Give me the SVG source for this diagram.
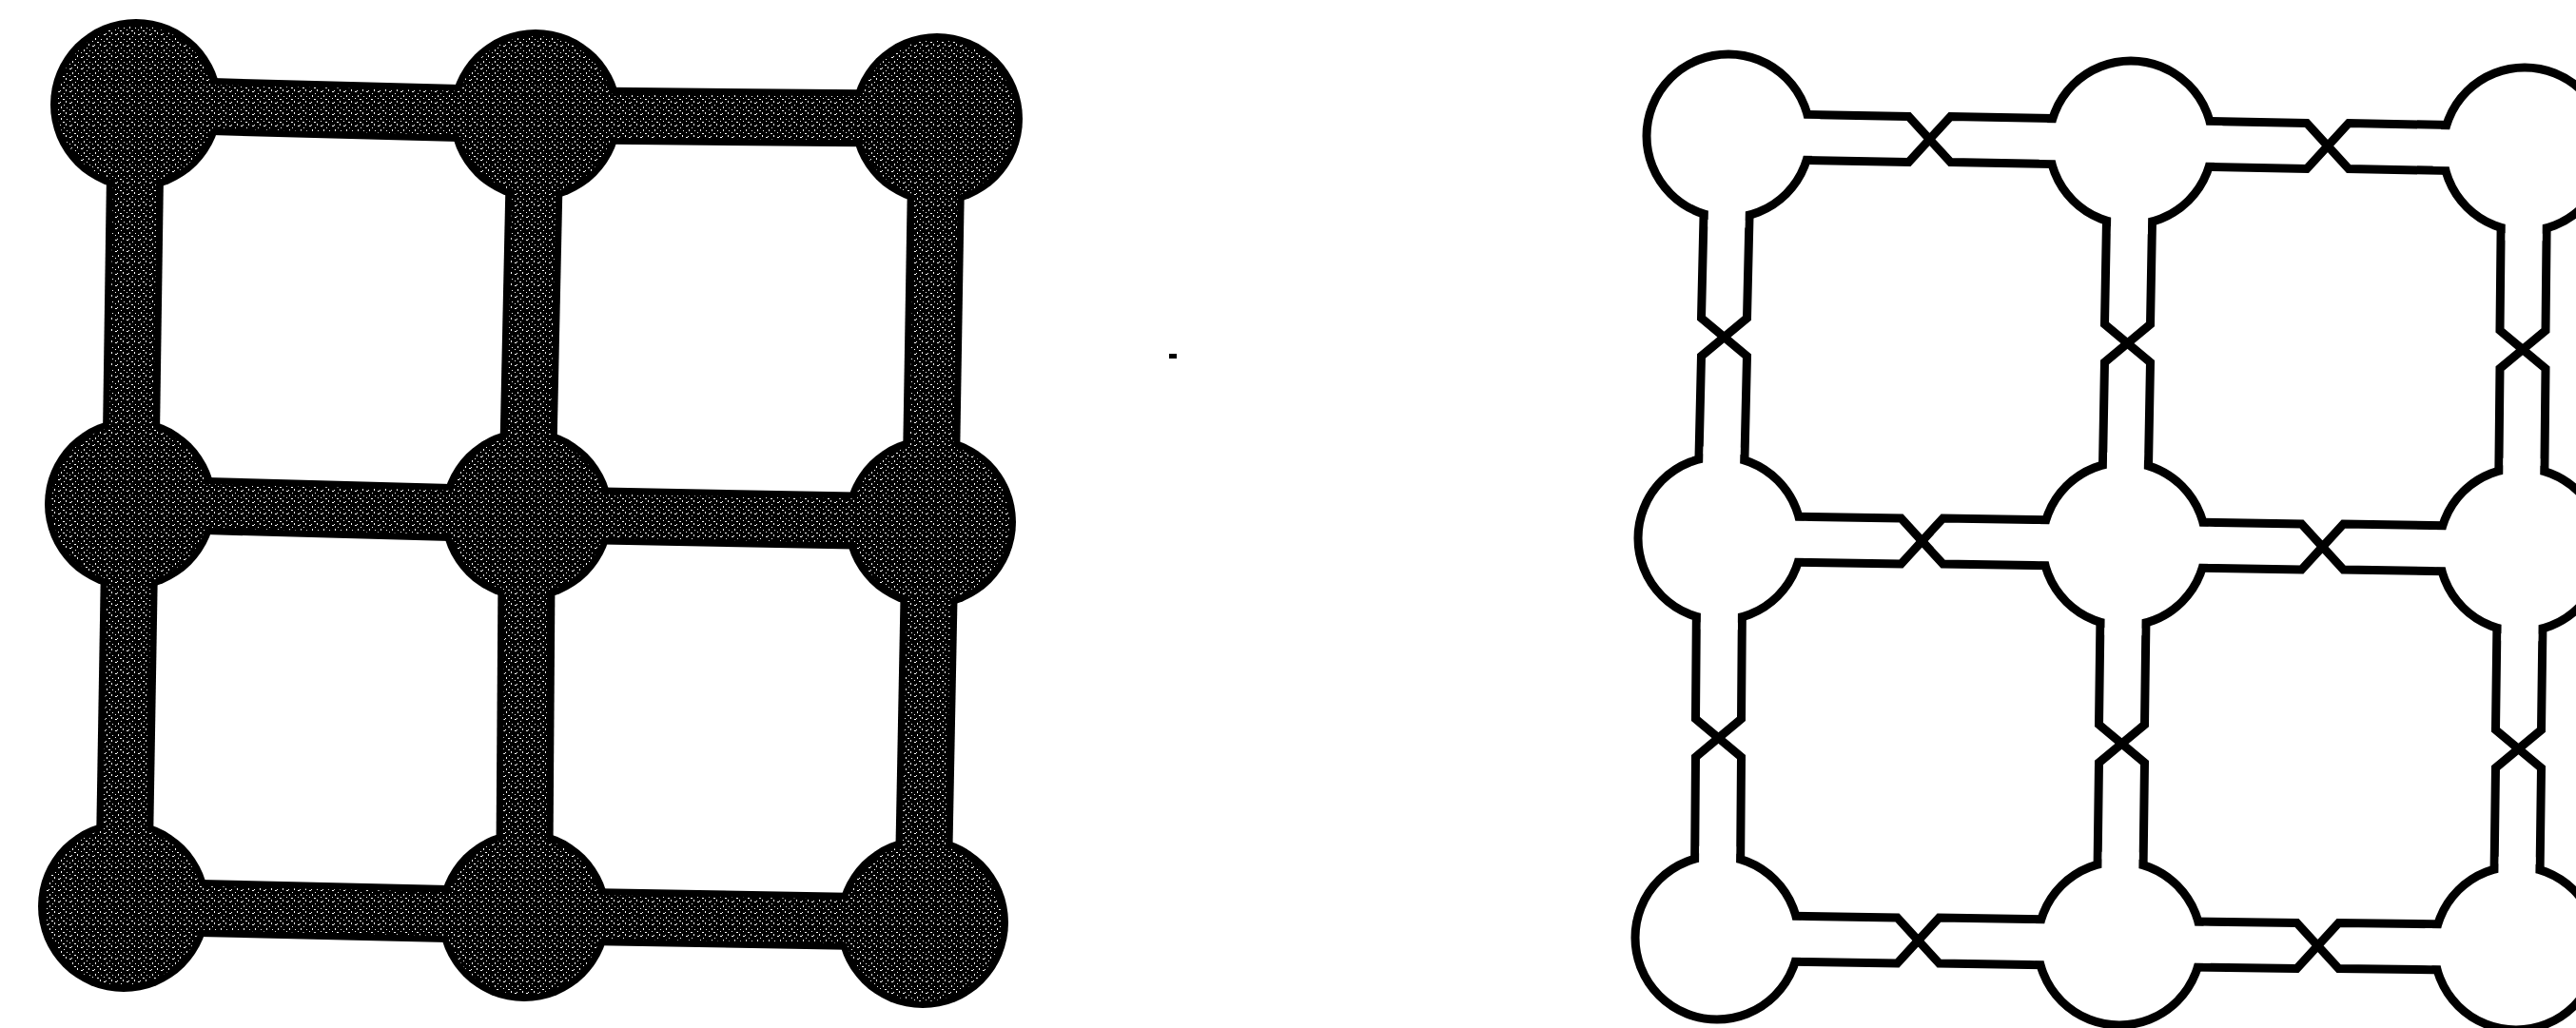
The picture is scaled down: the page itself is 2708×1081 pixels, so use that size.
<svg xmlns="http://www.w3.org/2000/svg" width="2708" height="1081" viewBox="0 0 2708 1081">
<defs>
<pattern id="stip" patternUnits="userSpaceOnUse" width="12" height="12">
<rect width="12" height="12" fill="#000"/>
<g fill="#fff" shape-rendering="crispEdges">
<rect x="1" y="0" width="2" height="1"/>
<rect x="7" y="2" width="1" height="1"/>
<rect x="4" y="4" width="1" height="2"/>
<rect x="10" y="5" width="1" height="1"/>
<rect x="6" y="8" width="2" height="1"/>
<rect x="1" y="7" width="1" height="1"/>
<rect x="9" y="10" width="1" height="2"/>
<rect x="3" y="11" width="1" height="1"/>
</g>
</pattern>
<style>
.dn{fill:#000}
.di{fill:url(#stip)}
.bo{stroke:#000;stroke-width:60;fill:none}
.bi{stroke:url(#stip);stroke-width:46;fill:none}
.rn{fill:#fff;stroke:#000;stroke-width:9}
.op{stroke:#fff;stroke-width:39;fill:none}
.ch{stroke:#000;stroke-width:9;fill:none;stroke-linejoin:miter;stroke-miterlimit:10}
</style>
</defs>
<rect width="2708" height="1081" fill="#fff"/>

<!-- Left grid: nodes -->
<g id="l-tl"><circle class="dn" cx="143" cy="110" r="90"/><circle class="di" cx="143" cy="110" r="83"/></g>
<g id="l-tm"><circle class="dn" cx="563" cy="121" r="90"/><circle class="di" cx="563" cy="121" r="83"/></g>
<g id="l-tr"><circle class="dn" cx="985" cy="125" r="90"/><circle class="di" cx="985" cy="125" r="83"/></g>
<g id="l-ml"><circle class="dn" cx="137" cy="530" r="90"/><circle class="di" cx="137" cy="530" r="83"/></g>
<g id="l-mm"><circle class="dn" cx="554" cy="541" r="90"/><circle class="di" cx="554" cy="541" r="83"/></g>
<g id="l-mr"><circle class="dn" cx="978" cy="549" r="90"/><circle class="di" cx="978" cy="549" r="83"/></g>
<g id="l-bl"><circle class="dn" cx="130" cy="953" r="90"/><circle class="di" cx="130" cy="953" r="83"/></g>
<g id="l-bm"><circle class="dn" cx="551" cy="963" r="90"/><circle class="di" cx="551" cy="963" r="83"/></g>
<g id="l-br"><circle class="dn" cx="970" cy="970" r="90"/><circle class="di" cx="970" cy="970" r="83"/></g>

<!-- Left grid: connectors -->
<g id="connectors-left">
<line class="bo" x1="223" y1="112.1" x2="483" y2="118.9"/>
<line class="bo" x1="643" y1="121.8" x2="905" y2="124.2"/>
<line class="bo" x1="217" y1="532.1" x2="474" y2="538.9"/>
<line class="bo" x1="634" y1="542.5" x2="898" y2="547.5"/>
<line class="bo" x1="210" y1="954.9" x2="471" y2="961.1"/>
<line class="bo" x1="631" y1="964.3" x2="890" y2="968.7"/>
<line class="bo" x1="141.9" y1="190" x2="138.1" y2="450"/>
<line class="bo" x1="561.3" y1="201" x2="555.7" y2="461"/>
<line class="bo" x1="983.7" y1="205" x2="979.3" y2="469"/>
<line class="bo" x1="135.7" y1="610" x2="131.3" y2="873"/>
<line class="bo" x1="553.4" y1="621" x2="551.6" y2="883"/>
<line class="bo" x1="976.5" y1="629" x2="971.5" y2="890"/>
<line class="bi" x1="143" y1="110" x2="563" y2="121"/>
<line class="bi" x1="563" y1="121" x2="985" y2="125"/>
<line class="bi" x1="137" y1="530" x2="554" y2="541"/>
<line class="bi" x1="554" y1="541" x2="978" y2="549"/>
<line class="bi" x1="130" y1="953" x2="551" y2="963"/>
<line class="bi" x1="551" y1="963" x2="970" y2="970"/>
<line class="bi" x1="143" y1="110" x2="137" y2="530"/>
<line class="bi" x1="563" y1="121" x2="554" y2="541"/>
<line class="bi" x1="985" y1="125" x2="978" y2="549"/>
<line class="bi" x1="137" y1="530" x2="130" y2="953"/>
<line class="bi" x1="554" y1="541" x2="551" y2="963"/>
<line class="bi" x1="978" y1="549" x2="970" y2="970"/>
</g>

<rect x="1229" y="372" width="8" height="5" fill="#000"/>

<!-- Right grid: connectors (channels with crossings) -->
<g id="connectors-right">
<polyline class="ch" points="1817,119 2006.5,122.5 2028.5,146.5 2050.5,122.5 2240,126"/>
<polyline class="ch" points="1817,167 2006.5,170.5 2028.5,146.5 2050.5,170.5 2240,174"/>
<polyline class="ch" points="2240,126 2425,129.5 2447,153.5 2469,129.5 2654,133"/>
<polyline class="ch" points="2240,174 2425,177.5 2447,153.5 2469,177.5 2654,181"/>
<polyline class="ch" points="1808,542 1998.5,545 2020.5,569 2042.5,545 2233,548"/>
<polyline class="ch" points="1808,590 1998.5,593 2020.5,569 2042.5,593 2233,596"/>
<polyline class="ch" points="2233,548 2419.5,551 2441.5,575 2463.5,551 2650,554"/>
<polyline class="ch" points="2233,596 2419.5,599 2441.5,575 2463.5,599 2650,602"/>
<polyline class="ch" points="1805,962 1994.5,965 2016.5,989 2038.5,965 2228,968"/>
<polyline class="ch" points="1805,1010 1994.5,1013 2016.5,989 2038.5,1013 2228,1016"/>
<polyline class="ch" points="2228,968 2414.5,970.5 2436.5,994.5 2458.5,970.5 2645,973"/>
<polyline class="ch" points="2228,1016 2414.5,1018.5 2436.5,994.5 2458.5,1018.5 2645,1021"/>
<polyline class="ch" points="1793,143 1788.5,334.5 1812.5,354.5 1788.5,374.5 1784,566"/>
<polyline class="ch" points="1841,143 1836.5,334.5 1812.5,354.5 1836.5,374.5 1832,566"/>
<polyline class="ch" points="2216,150 2212.5,341 2236.5,361 2212.5,381 2209,572"/>
<polyline class="ch" points="2264,150 2260.5,341 2236.5,361 2260.5,381 2257,572"/>
<polyline class="ch" points="2630,157 2628,347.5 2652,367.5 2628,387.5 2626,578"/>
<polyline class="ch" points="2678,157 2676,347.5 2652,367.5 2676,387.5 2674,578"/>
<polyline class="ch" points="1784,566 1782.5,756 1806.5,776 1782.5,796 1781,986"/>
<polyline class="ch" points="1832,566 1830.5,756 1806.5,776 1830.5,796 1829,986"/>
<polyline class="ch" points="2209,572 2206.5,762 2230.5,782 2206.5,802 2204,992"/>
<polyline class="ch" points="2257,572 2254.5,762 2230.5,782 2254.5,802 2252,992"/>
<polyline class="ch" points="2626,578 2623.5,767.5 2647.5,787.5 2623.5,807.5 2621,997"/>
<polyline class="ch" points="2674,578 2671.5,767.5 2647.5,787.5 2671.5,807.5 2669,997"/>
</g>

<!-- Right grid: nodes -->
<g id="r-tl"><circle class="rn" cx="1817" cy="143" r="86"/><path class="op" d="M1817 143L1913 144.6M1817 143L1815 239"/></g>
<g id="r-tm"><circle class="rn" cx="2240" cy="150" r="86"/><path class="op" d="M2240 150L2144 148.4M2240 150L2336 151.6M2240 150L2238.4 246"/></g>
<g id="r-tr"><circle class="rn" cx="2654" cy="157" r="86"/><path class="op" d="M2654 157L2558 155.4M2654 157L2653.1 253"/></g>
<g id="r-ml"><circle class="rn" cx="1808" cy="566" r="86"/><path class="op" d="M1808 566L1810 470M1808 566L1904 567.4M1808 566L1807.3 662"/></g>
<g id="r-mm"><circle class="rn" cx="2233" cy="572" r="86"/><path class="op" d="M2233 572L2137 570.6M2233 572L2329 573.4M2233 572L2234.6 476M2233 572L2231.9 668"/></g>
<g id="r-mr"><circle class="rn" cx="2650" cy="578" r="86"/><path class="op" d="M2650 578L2554 576.6M2650 578L2650.9 482M2650 578L2648.9 674"/></g>
<g id="r-bl"><circle class="rn" cx="1805" cy="986" r="86"/><path class="op" d="M1805 986L1805.7 890M1805 986L1901 987.4"/></g>
<g id="r-bm"><circle class="rn" cx="2228" cy="992" r="86"/><path class="op" d="M2228 992L2132 990.6M2228 992L2324 993.4M2228 992L2229.1 896"/></g>
<g id="r-br"><circle class="rn" cx="2645" cy="997" r="86"/><path class="op" d="M2645 997L2549 995.6M2645 997L2646.1 901"/></g>
</svg>
